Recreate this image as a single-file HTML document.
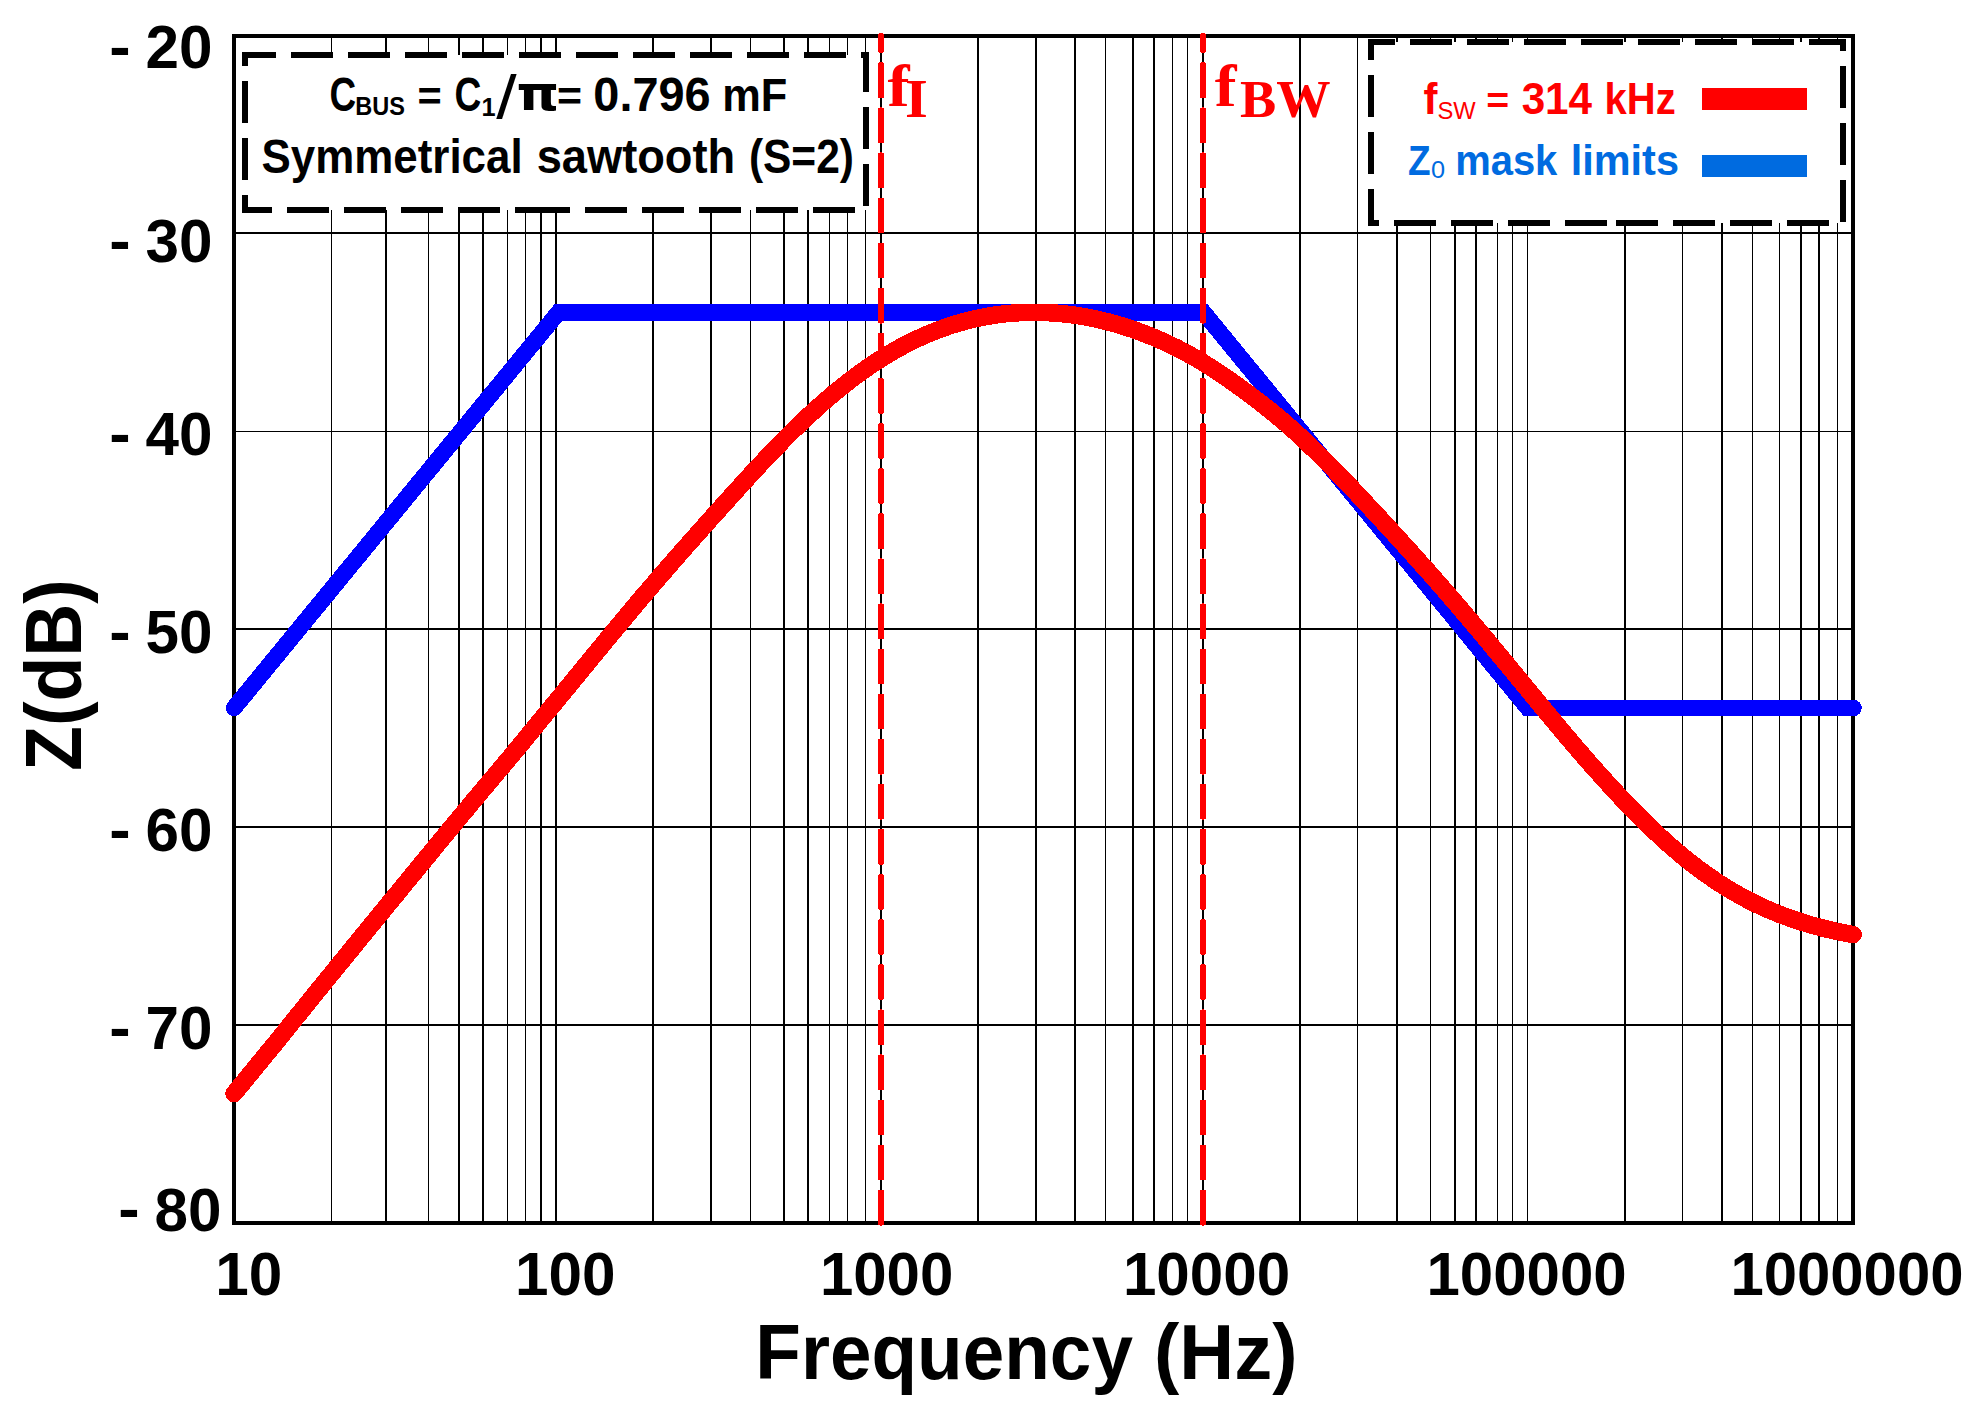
<!DOCTYPE html>
<html lang="en"><head><meta charset="utf-8"><title>Impedance mask plot</title>
<style>
html,body{margin:0;padding:0;background:#fff;}
body{width:1982px;height:1408px;overflow:hidden;}
svg{display:block;}
text{font-family:"Liberation Sans",sans-serif;font-weight:bold;font-kerning:none;font-size:100px;}
.ser{font-family:"Liberation Serif",serif;fill:#ff0000;}
</style></head><body>
<svg width="1982" height="1408" viewBox="0 0 1982 1408">
<rect width="1982" height="1408" fill="#fff"/>
<g fill="#000" shape-rendering="crispEdges">
<rect x="331" y="36" width="1" height="1187"/><rect x="428" y="36" width="1" height="1187"/><rect x="507" y="36" width="1" height="1187"/><rect x="525" y="36" width="1" height="1187"/><rect x="750" y="36" width="1" height="1187"/><rect x="829" y="36" width="1" height="1187"/><rect x="847" y="36" width="1" height="1187"/><rect x="865" y="36" width="1" height="1187"/><rect x="1105" y="36" width="1" height="1187"/><rect x="1172" y="36" width="1" height="1187"/><rect x="1187" y="36" width="1" height="1187"/><rect x="1357" y="36" width="1" height="1187"/><rect x="1430" y="36" width="1" height="1187"/><rect x="1497" y="36" width="1" height="1187"/><rect x="1512" y="36" width="1" height="1187"/><rect x="1527" y="36" width="1" height="1187"/><rect x="1682" y="36" width="1" height="1187"/><rect x="1752" y="36" width="1" height="1187"/><rect x="1779" y="36" width="1" height="1187"/><rect x="1837" y="36" width="1" height="1187"/><rect x="385" y="36" width="2" height="1187"/><rect x="458" y="36" width="2" height="1187"/><rect x="482" y="36" width="2" height="1187"/><rect x="540" y="36" width="2" height="1187"/><rect x="555" y="36" width="2" height="1187"/><rect x="652" y="36" width="2" height="1187"/><rect x="710" y="36" width="2" height="1187"/><rect x="783" y="36" width="2" height="1187"/><rect x="807" y="36" width="2" height="1187"/><rect x="880" y="36" width="2" height="1187"/><rect x="977" y="36" width="2" height="1187"/><rect x="1035" y="36" width="2" height="1187"/><rect x="1074" y="36" width="2" height="1187"/><rect x="1132" y="36" width="2" height="1187"/><rect x="1153" y="36" width="2" height="1187"/><rect x="1202" y="36" width="2" height="1187"/><rect x="1299" y="36" width="2" height="1187"/><rect x="1396" y="36" width="2" height="1187"/><rect x="1454" y="36" width="2" height="1187"/><rect x="1475" y="36" width="2" height="1187"/><rect x="1624" y="36" width="2" height="1187"/><rect x="1721" y="36" width="2" height="1187"/><rect x="1800" y="36" width="2" height="1187"/><rect x="1818" y="36" width="2" height="1187"/>
<rect x="234" y="232" width="1619" height="2"/><rect x="234" y="431" width="1619" height="1"/><rect x="234" y="628" width="1619" height="2"/><rect x="234" y="826" width="1619" height="2"/><rect x="234" y="1024" width="1619" height="2"/>
</g>
<rect x="234" y="36" width="1619" height="1187" fill="none" stroke="#000" stroke-width="4" shape-rendering="crispEdges"/>
<rect x="245" y="55" width="621" height="155" fill="#fff"/>
<path d="M557,210 L245,210 L245,55 L866,55 L866,210 L557,210" fill="none" stroke="#000" stroke-width="6" stroke-dasharray="42 15" stroke-linejoin="miter" shape-rendering="crispEdges"/>
<rect x="1371" y="42" width="471.5" height="181" fill="#fff"/>
<path d="M1607,223 L1371,223 L1371,42 L1842.5,42 L1842.5,223 L1607,223" fill="none" stroke="#000" stroke-width="6" stroke-dasharray="42 15" stroke-linejoin="miter" shape-rendering="crispEdges"/>
<g fill="#ff0000" shape-rendering="crispEdges"><rect x="877.9" y="33" width="6.2" height="19.799999999999997" rx="2.2"/><rect x="877.90" y="62.30" width="6.2" height="35.80" rx="2.2"/><rect x="877.90" y="107.40" width="6.2" height="35.80" rx="2.2"/><rect x="877.90" y="152.49" width="6.2" height="35.80" rx="2.2"/><rect x="877.90" y="197.59" width="6.2" height="35.80" rx="2.2"/><rect x="877.90" y="242.68" width="6.2" height="35.80" rx="2.2"/><rect x="877.90" y="287.78" width="6.2" height="35.80" rx="2.2"/><rect x="877.90" y="332.88" width="6.2" height="35.80" rx="2.2"/><rect x="877.90" y="377.97" width="6.2" height="35.80" rx="2.2"/><rect x="877.90" y="423.07" width="6.2" height="35.80" rx="2.2"/><rect x="877.90" y="468.16" width="6.2" height="35.80" rx="2.2"/><rect x="877.90" y="513.26" width="6.2" height="35.80" rx="2.2"/><rect x="877.90" y="558.36" width="6.2" height="35.80" rx="2.2"/><rect x="877.90" y="603.45" width="6.2" height="35.80" rx="2.2"/><rect x="877.90" y="648.55" width="6.2" height="35.80" rx="2.2"/><rect x="877.90" y="693.64" width="6.2" height="35.80" rx="2.2"/><rect x="877.90" y="738.74" width="6.2" height="35.80" rx="2.2"/><rect x="877.90" y="783.84" width="6.2" height="35.80" rx="2.2"/><rect x="877.90" y="828.93" width="6.2" height="35.80" rx="2.2"/><rect x="877.90" y="874.03" width="6.2" height="35.80" rx="2.2"/><rect x="877.90" y="919.12" width="6.2" height="35.80" rx="2.2"/><rect x="877.90" y="964.22" width="6.2" height="35.80" rx="2.2"/><rect x="877.90" y="1009.32" width="6.2" height="35.80" rx="2.2"/><rect x="877.90" y="1054.41" width="6.2" height="35.80" rx="2.2"/><rect x="877.90" y="1099.51" width="6.2" height="35.80" rx="2.2"/><rect x="877.90" y="1144.60" width="6.2" height="35.80" rx="2.2"/><rect x="877.90" y="1189.70" width="6.2" height="35.80" rx="2.2"/></g>
<g fill="#ff0000" shape-rendering="crispEdges"><rect x="1199.9" y="33" width="6.2" height="19.799999999999997" rx="2.2"/><rect x="1199.90" y="62.30" width="6.2" height="35.80" rx="2.2"/><rect x="1199.90" y="107.40" width="6.2" height="35.80" rx="2.2"/><rect x="1199.90" y="152.49" width="6.2" height="35.80" rx="2.2"/><rect x="1199.90" y="197.59" width="6.2" height="35.80" rx="2.2"/><rect x="1199.90" y="242.68" width="6.2" height="35.80" rx="2.2"/><rect x="1199.90" y="287.78" width="6.2" height="35.80" rx="2.2"/><rect x="1199.90" y="332.88" width="6.2" height="35.80" rx="2.2"/><rect x="1199.90" y="377.97" width="6.2" height="35.80" rx="2.2"/><rect x="1199.90" y="423.07" width="6.2" height="35.80" rx="2.2"/><rect x="1199.90" y="468.16" width="6.2" height="35.80" rx="2.2"/><rect x="1199.90" y="513.26" width="6.2" height="35.80" rx="2.2"/><rect x="1199.90" y="558.36" width="6.2" height="35.80" rx="2.2"/><rect x="1199.90" y="603.45" width="6.2" height="35.80" rx="2.2"/><rect x="1199.90" y="648.55" width="6.2" height="35.80" rx="2.2"/><rect x="1199.90" y="693.64" width="6.2" height="35.80" rx="2.2"/><rect x="1199.90" y="738.74" width="6.2" height="35.80" rx="2.2"/><rect x="1199.90" y="783.84" width="6.2" height="35.80" rx="2.2"/><rect x="1199.90" y="828.93" width="6.2" height="35.80" rx="2.2"/><rect x="1199.90" y="874.03" width="6.2" height="35.80" rx="2.2"/><rect x="1199.90" y="919.12" width="6.2" height="35.80" rx="2.2"/><rect x="1199.90" y="964.22" width="6.2" height="35.80" rx="2.2"/><rect x="1199.90" y="1009.32" width="6.2" height="35.80" rx="2.2"/><rect x="1199.90" y="1054.41" width="6.2" height="35.80" rx="2.2"/><rect x="1199.90" y="1099.51" width="6.2" height="35.80" rx="2.2"/><rect x="1199.90" y="1144.60" width="6.2" height="35.80" rx="2.2"/><rect x="1199.90" y="1189.70" width="6.2" height="35.80" rx="2.2"/></g>
<polyline points="234,708 558.4,312.5 1203.6,312.5 1527.8,708 1853.5,708" fill="none" stroke="#0000ff" stroke-width="16.6" stroke-linecap="round" stroke-linejoin="miter" shape-rendering="crispEdges"/>
<g fill="#ff0000" shape-rendering="crispEdges"><rect x="877.9" y="33" width="6.2" height="19.799999999999997" rx="2.2"/><rect x="877.90" y="62.30" width="6.2" height="35.80" rx="2.2"/><rect x="877.90" y="107.40" width="6.2" height="35.80" rx="2.2"/><rect x="877.90" y="152.49" width="6.2" height="35.80" rx="2.2"/><rect x="877.90" y="197.59" width="6.2" height="35.80" rx="2.2"/><rect x="877.90" y="242.68" width="6.2" height="35.80" rx="2.2"/><rect x="877.90" y="287.78" width="6.2" height="35.80" rx="2.2"/><rect x="877.90" y="332.88" width="6.2" height="35.80" rx="2.2"/><rect x="877.90" y="377.97" width="6.2" height="35.80" rx="2.2"/><rect x="877.90" y="423.07" width="6.2" height="35.80" rx="2.2"/><rect x="877.90" y="468.16" width="6.2" height="35.80" rx="2.2"/><rect x="877.90" y="513.26" width="6.2" height="35.80" rx="2.2"/><rect x="877.90" y="558.36" width="6.2" height="35.80" rx="2.2"/><rect x="877.90" y="603.45" width="6.2" height="35.80" rx="2.2"/><rect x="877.90" y="648.55" width="6.2" height="35.80" rx="2.2"/><rect x="877.90" y="693.64" width="6.2" height="35.80" rx="2.2"/><rect x="877.90" y="738.74" width="6.2" height="35.80" rx="2.2"/><rect x="877.90" y="783.84" width="6.2" height="35.80" rx="2.2"/><rect x="877.90" y="828.93" width="6.2" height="35.80" rx="2.2"/><rect x="877.90" y="874.03" width="6.2" height="35.80" rx="2.2"/><rect x="877.90" y="919.12" width="6.2" height="35.80" rx="2.2"/><rect x="877.90" y="964.22" width="6.2" height="35.80" rx="2.2"/><rect x="877.90" y="1009.32" width="6.2" height="35.80" rx="2.2"/><rect x="877.90" y="1054.41" width="6.2" height="35.80" rx="2.2"/><rect x="877.90" y="1099.51" width="6.2" height="35.80" rx="2.2"/><rect x="877.90" y="1144.60" width="6.2" height="35.80" rx="2.2"/><rect x="877.90" y="1189.70" width="6.2" height="35.80" rx="2.2"/></g>
<g fill="#ff0000" shape-rendering="crispEdges"><rect x="1199.9" y="33" width="6.2" height="19.799999999999997" rx="2.2"/><rect x="1199.90" y="62.30" width="6.2" height="35.80" rx="2.2"/><rect x="1199.90" y="107.40" width="6.2" height="35.80" rx="2.2"/><rect x="1199.90" y="152.49" width="6.2" height="35.80" rx="2.2"/><rect x="1199.90" y="197.59" width="6.2" height="35.80" rx="2.2"/><rect x="1199.90" y="242.68" width="6.2" height="35.80" rx="2.2"/><rect x="1199.90" y="287.78" width="6.2" height="35.80" rx="2.2"/><rect x="1199.90" y="332.88" width="6.2" height="35.80" rx="2.2"/><rect x="1199.90" y="377.97" width="6.2" height="35.80" rx="2.2"/><rect x="1199.90" y="423.07" width="6.2" height="35.80" rx="2.2"/><rect x="1199.90" y="468.16" width="6.2" height="35.80" rx="2.2"/><rect x="1199.90" y="513.26" width="6.2" height="35.80" rx="2.2"/><rect x="1199.90" y="558.36" width="6.2" height="35.80" rx="2.2"/><rect x="1199.90" y="603.45" width="6.2" height="35.80" rx="2.2"/><rect x="1199.90" y="648.55" width="6.2" height="35.80" rx="2.2"/><rect x="1199.90" y="693.64" width="6.2" height="35.80" rx="2.2"/><rect x="1199.90" y="738.74" width="6.2" height="35.80" rx="2.2"/><rect x="1199.90" y="783.84" width="6.2" height="35.80" rx="2.2"/><rect x="1199.90" y="828.93" width="6.2" height="35.80" rx="2.2"/><rect x="1199.90" y="874.03" width="6.2" height="35.80" rx="2.2"/><rect x="1199.90" y="919.12" width="6.2" height="35.80" rx="2.2"/><rect x="1199.90" y="964.22" width="6.2" height="35.80" rx="2.2"/><rect x="1199.90" y="1009.32" width="6.2" height="35.80" rx="2.2"/><rect x="1199.90" y="1054.41" width="6.2" height="35.80" rx="2.2"/><rect x="1199.90" y="1099.51" width="6.2" height="35.80" rx="2.2"/><rect x="1199.90" y="1144.60" width="6.2" height="35.80" rx="2.2"/><rect x="1199.90" y="1189.70" width="6.2" height="35.80" rx="2.2"/></g>
<polyline points="234.0,1093.7 238.0,1088.8 242.1,1083.8 246.1,1078.9 250.2,1073.9 254.2,1069.0 258.3,1064.0 262.3,1059.1 266.4,1054.1 270.4,1049.2 274.5,1044.3 278.5,1039.3 282.6,1034.3 286.6,1029.3 290.7,1024.2 294.7,1019.2 298.8,1014.2 302.8,1009.2 306.9,1004.1 310.9,999.1 315.0,994.1 319.0,989.1 323.1,984.1 327.1,979.2 331.2,974.2 335.2,969.2 339.2,964.2 343.3,959.3 347.3,954.3 351.4,949.4 355.4,944.4 359.5,939.5 363.5,934.5 367.6,929.6 371.6,924.6 375.7,919.7 379.7,914.7 383.8,909.8 387.8,904.8 391.9,899.9 395.9,895.0 400.0,890.0 404.0,885.1 408.1,880.1 412.1,875.2 416.2,870.3 420.2,865.3 424.3,860.4 428.3,855.5 432.4,850.6 436.4,845.6 440.4,840.7 444.5,835.8 448.5,830.9 452.6,826.0 456.6,821.1 460.7,816.2 464.7,811.4 468.8,806.5 472.8,801.6 476.9,796.8 480.9,791.9 485.0,787.1 489.0,782.3 493.1,777.5 497.1,772.7 501.2,767.9 505.2,763.1 509.3,758.3 513.3,753.4 517.4,748.5 521.4,743.6 525.5,738.6 529.5,733.7 533.6,728.8 537.6,723.9 541.6,718.9 545.7,714.0 549.7,709.1 553.8,704.2 557.8,699.3 561.9,694.3 565.9,689.4 570.0,684.5 574.0,679.5 578.1,674.6 582.1,669.7 586.2,664.7 590.2,659.8 594.3,654.8 598.3,649.9 602.4,645.0 606.4,640.1 610.5,635.1 614.5,630.3 618.6,625.4 622.6,620.5 626.7,615.7 630.7,610.8 634.8,606.0 638.8,601.2 642.8,596.4 646.9,591.7 650.9,587.0 655.0,582.2 659.0,577.5 663.1,572.9 667.1,568.2 671.2,563.6 675.2,558.9 679.3,554.3 683.3,549.7 687.4,545.1 691.4,540.5 695.5,536.0 699.5,531.4 703.6,526.9 707.6,522.3 711.7,517.8 715.7,513.3 719.8,508.8 723.8,504.3 727.9,499.8 731.9,495.3 736.0,490.8 740.0,486.4 744.0,481.9 748.1,477.5 752.1,473.1 756.2,468.7 760.2,464.4 764.3,460.1 768.3,455.8 772.4,451.6 776.4,447.4 780.5,443.2 784.5,439.1 788.6,435.0 792.6,431.0 796.7,427.0 800.7,423.1 804.8,419.3 808.8,415.5 812.9,411.8 816.9,408.1 821.0,404.5 825.0,400.9 829.1,397.4 833.1,394.0 837.2,390.7 841.2,387.4 845.2,384.2 849.3,381.0 853.3,377.9 857.4,374.9 861.4,372.0 865.5,369.1 869.5,366.3 873.6,363.6 877.6,360.9 881.7,358.3 885.7,355.8 889.8,353.4 893.8,351.0 897.9,348.8 901.9,346.5 906.0,344.4 910.0,342.3 914.1,340.3 918.1,338.4 922.2,336.6 926.2,334.8 930.3,333.1 934.3,331.5 938.4,329.9 942.4,328.4 946.4,327.0 950.5,325.6 954.5,324.3 958.6,323.1 962.6,322.0 966.7,320.9 970.7,319.9 974.8,318.9 978.8,318.0 982.9,317.2 986.9,316.4 991.0,315.8 995.0,315.1 999.1,314.6 1003.1,314.1 1007.2,313.6 1011.2,313.3 1015.3,313.0 1019.3,312.7 1023.4,312.5 1027.4,312.4 1031.5,312.3 1035.5,312.3 1039.6,312.4 1043.6,312.5 1047.6,312.6 1051.7,312.9 1055.7,313.1 1059.8,313.5 1063.8,313.9 1067.9,314.3 1071.9,314.8 1076.0,315.4 1080.0,316.0 1084.1,316.7 1088.1,317.4 1092.2,318.2 1096.2,319.1 1100.3,320.0 1104.3,321.0 1108.4,322.0 1112.4,323.1 1116.5,324.2 1120.5,325.4 1124.6,326.7 1128.6,328.0 1132.7,329.3 1136.7,330.8 1140.8,332.2 1144.8,333.8 1148.8,335.4 1152.9,337.0 1156.9,338.7 1161.0,340.5 1165.0,342.3 1169.1,344.2 1173.1,346.1 1177.2,348.1 1181.2,350.2 1185.3,352.4 1189.3,354.6 1193.4,356.9 1197.4,359.2 1201.5,361.6 1205.5,364.1 1209.6,366.6 1213.6,369.2 1217.7,371.9 1221.7,374.6 1225.8,377.3 1229.8,380.2 1233.9,383.0 1237.9,385.9 1242.0,388.9 1246.0,391.8 1250.0,394.8 1254.1,397.9 1258.1,401.0 1262.2,404.1 1266.2,407.3 1270.3,410.5 1274.3,413.8 1278.4,417.2 1282.4,420.6 1286.5,424.1 1290.5,427.7 1294.6,431.3 1298.6,435.0 1302.7,438.8 1306.7,442.6 1310.8,446.5 1314.8,450.4 1318.9,454.4 1322.9,458.4 1327.0,462.5 1331.0,466.6 1335.1,470.7 1339.1,474.9 1343.2,479.1 1347.2,483.3 1351.2,487.5 1355.3,491.8 1359.3,496.1 1363.4,500.4 1367.4,504.8 1371.5,509.1 1375.5,513.5 1379.6,517.9 1383.6,522.3 1387.7,526.7 1391.7,531.1 1395.8,535.6 1399.8,540.0 1403.9,544.5 1407.9,548.9 1412.0,553.4 1416.0,557.9 1420.1,562.5 1424.1,567.0 1428.2,571.5 1432.2,576.1 1436.3,580.7 1440.3,585.3 1444.4,590.0 1448.4,594.6 1452.4,599.3 1456.5,604.0 1460.5,608.7 1464.6,613.5 1468.6,618.3 1472.7,623.1 1476.7,627.9 1480.8,632.7 1484.8,637.5 1488.9,642.4 1492.9,647.3 1497.0,652.2 1501.0,657.1 1505.1,662.0 1509.1,666.9 1513.2,671.8 1517.2,676.7 1521.3,681.7 1525.3,686.6 1529.4,691.5 1533.4,696.4 1537.5,701.4 1541.5,706.3 1545.6,711.2 1549.6,716.0 1553.6,720.9 1557.7,725.7 1561.7,730.6 1565.8,735.4 1569.8,740.1 1573.9,744.9 1577.9,749.6 1582.0,754.3 1586.0,759.0 1590.1,763.6 1594.1,768.2 1598.2,772.7 1602.2,777.2 1606.3,781.7 1610.3,786.1 1614.4,790.5 1618.4,794.9 1622.5,799.2 1626.5,803.4 1630.6,807.6 1634.6,811.8 1638.7,815.8 1642.7,819.9 1646.8,823.9 1650.8,827.8 1654.8,831.6 1658.9,835.4 1662.9,839.1 1667.0,842.8 1671.0,846.4 1675.1,849.9 1679.1,853.3 1683.2,856.7 1687.2,860.0 1691.3,863.2 1695.3,866.3 1699.4,869.4 1703.4,872.3 1707.5,875.2 1711.5,878.0 1715.6,880.8 1719.6,883.5 1723.7,886.0 1727.7,888.5 1731.8,891.0 1735.8,893.3 1739.9,895.6 1743.9,897.8 1748.0,900.0 1752.0,902.0 1756.0,904.0 1760.1,906.0 1764.1,907.8 1768.2,909.6 1772.2,911.3 1776.3,913.0 1780.3,914.6 1784.4,916.1 1788.4,917.6 1792.5,919.0 1796.5,920.4 1800.6,921.7 1804.6,923.0 1808.7,924.2 1812.7,925.4 1816.8,926.5 1820.8,927.6 1824.9,928.6 1828.9,929.6 1833.0,930.5 1837.0,931.4 1841.1,932.3 1845.1,933.1 1849.2,933.9 1853.2,934.6" fill="none" stroke="#ff0000" stroke-width="17.5" stroke-linecap="round" stroke-linejoin="round" shape-rendering="crispEdges"/>
<g id="y-ticks">
<text transform="translate(109.29,66.90) scale(0.6420,0.5959)">-</text>
<text transform="translate(145.61,68.40) scale(0.6020,0.6102)">20</text>
<text transform="translate(109.29,260.90) scale(0.6420,0.5959)">-</text>
<text transform="translate(145.61,262.40) scale(0.6020,0.6102)">30</text>
<text transform="translate(109.29,453.70) scale(0.6420,0.5959)">-</text>
<text transform="translate(145.61,455.20) scale(0.6020,0.6102)">40</text>
<text transform="translate(109.29,651.90) scale(0.6420,0.5959)">-</text>
<text transform="translate(145.61,653.40) scale(0.6020,0.6102)">50</text>
<text transform="translate(109.29,849.90) scale(0.6420,0.5959)">-</text>
<text transform="translate(145.61,851.40) scale(0.6020,0.6102)">60</text>
<text transform="translate(109.29,1047.90) scale(0.6420,0.5959)">-</text>
<text transform="translate(145.61,1049.40) scale(0.6020,0.6102)">70</text>
<text transform="translate(118.29,1229.20) scale(0.6420,0.5959)">-</text>
<text transform="translate(154.61,1230.70) scale(0.6020,0.6102)">80</text>
</g>
<g id="x-ticks">
<text transform="translate(215.20,1295.31) scale(0.6030,0.6073)">10</text>
<text transform="translate(515.01,1295.31) scale(0.6021,0.6073)">100</text>
<text transform="translate(819.92,1295.31) scale(0.5998,0.6073)">1000</text>
<text transform="translate(1122.91,1295.31) scale(0.6018,0.6073)">10000</text>
<text transform="translate(1426.42,1295.31) scale(0.6001,0.6073)">100000</text>
<text transform="translate(1730.43,1295.31) scale(0.5988,0.6073)">1000000</text>
</g>
<g id="axis-titles">
<text transform="translate(755.30,1379.30) scale(0.7469,0.7791)">Frequency</text>
<text transform="translate(1154.02,1379.30) scale(0.7598,0.7791)">(Hz)</text>
<text transform="translate(81.1,770.89) rotate(-90) scale(0.7343,0.7994)">Z(dB)</text>
</g>
<g id="note">
<text transform="translate(329.49,111.14) scale(0.3686,0.4746)">C</text>
<text transform="translate(355.23,115.25) scale(0.2354,0.2585)">BUS</text>
<text transform="translate(417.48,110.31) scale(0.4148,0.4022)">=</text>
<text transform="translate(454.58,111.14) scale(0.3717,0.4746)">C</text>
<text transform="translate(481.40,115.50) scale(0.2536,0.2500)">1</text>
<text transform="translate(496.30,118.10) scale(0.7343,0.6114)" style="font-weight:normal">/</text>
<text transform="translate(516.43,109.89) scale(0.5406,0.4753)" style="font-family:'DejaVu Sans','Liberation Sans',sans-serif">π</text>
<text transform="translate(557.02,110.31) scale(0.4287,0.4022)">=</text>
<text transform="translate(593.35,111.14) scale(0.4689,0.4746)">0.796</text>
<text transform="translate(722.14,111.00) scale(0.4336,0.4651)">mF</text>
<text transform="translate(261.53,172.54) scale(0.4391,0.4760)">Symmetrical</text>
<text transform="translate(536.71,172.54) scale(0.4523,0.4760)">sawtooth</text>
<text transform="translate(748.88,172.54) scale(0.4251,0.4760)">(S=2)</text>
</g>
<g id="legend">
<rect x="1702" y="88" width="105" height="22" fill="#ff0000" shape-rendering="crispEdges"/>
<rect x="1702" y="155" width="105" height="22" fill="#006be0" shape-rendering="crispEdges"/>
<text transform="translate(1423.48,113.90) scale(0.4184,0.4430)" fill="#ff0000">f</text>
<text transform="translate(1437.52,118.96) scale(0.2375,0.2415)" fill="#ff0000" style="font-weight:normal">SW</text>
<text transform="translate(1486.17,113.18) scale(0.3928,0.3784)" fill="#ff0000">=</text>
<text transform="translate(1521.63,114.11) scale(0.4225,0.4369)" fill="#ff0000">314</text>
<text transform="translate(1604.61,113.90) scale(0.4000,0.4430)" fill="#ff0000">kHz</text>
<text transform="translate(1408.00,174.65) scale(0.3694,0.4339)" fill="#006be0">Z</text>
<text transform="translate(1431.11,178.46) scale(0.2531,0.2429)" fill="#006be0" style="font-weight:normal">0</text>
<text transform="translate(1455.17,174.65) scale(0.3996,0.4326)" fill="#006be0">mask</text>
<text transform="translate(1570.70,174.65) scale(0.4146,0.4326)" fill="#006be0">limits</text>
</g>
<g id="markers">
<text transform="translate(887.52,105.90) scale(0.6618,0.5965)" class="ser">f</text>
<text transform="translate(905.02,117.10) scale(0.5874,0.5529)" class="ser">I</text>
<text transform="translate(1214.72,105.90) scale(0.6529,0.5965)" class="ser">f</text>
<text transform="translate(1240.00,116.69) scale(0.5432,0.5344)" class="ser">BW</text>
</g>
</svg>
</body></html>
